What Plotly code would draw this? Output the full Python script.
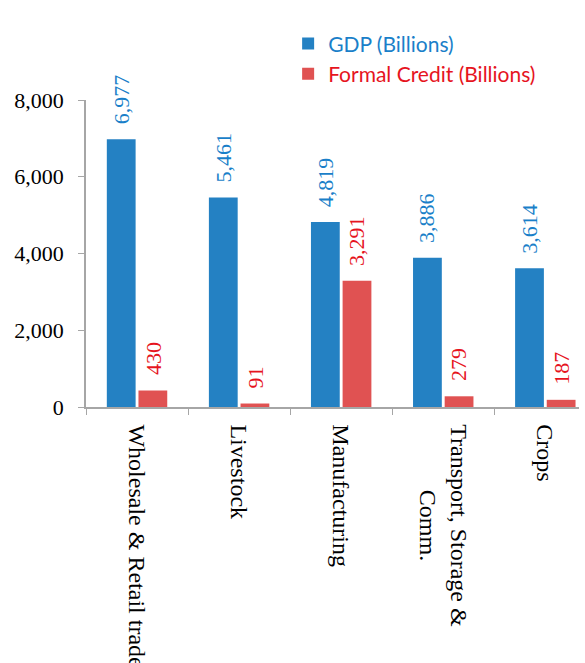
import plotly.graph_objects as go

categories = ["Wholesale & Retail trade", "Livestock", "Manufacturing",
              "Transport, Storage &<br>Comm.", "Crops"]
gdp = [6977, 5461, 4819, 3886, 3614]
credit = [430, 91, 3291, 279, 187]
y_ticks = [0, 2000, 4000, 6000, 8000]

BLUE_BAR = "#2481C3"
RED_BAR = "#E05252"
BLUE_TXT = "#1A7FC9"
RED_TXT = "#E6141E"
SERIF = "Liberation Serif, Times New Roman, serif"

fig = go.Figure()
fig.add_trace(go.Bar(
    x=categories, y=gdp, marker_color=BLUE_BAR, marker_line_width=0,
    name=f"<span style='color:{BLUE_TXT}'>GDP (Billions)</span>",
))
fig.add_trace(go.Bar(
    x=categories, y=credit, marker_color=RED_BAR, marker_line_width=0,
    name=f"<span style='color:{RED_TXT}'>Formal Credit (Billions)</span>",
))

# rotated value labels sitting above each bar
for series, color, shift in ((gdp, BLUE_TXT, -16), (credit, RED_TXT, 16)):
    for cat, val in zip(categories, series):
        fig.add_annotation(
            x=cat, y=val, xref="x", yref="y", text=f"{val:,}",
            textangle=-90, showarrow=False, xshift=shift, yshift=13,
            xanchor="center", yanchor="bottom",
            font=dict(family=SERIF, size=22, color=color),
        )

# category names, rotated to read downward and centred line by line
for cat in categories:
    fig.add_annotation(
        x=cat, y=0, xref="x", yref="y", text=cat,
        textangle=90, showarrow=False, yshift=-15,
        xanchor="center", yanchor="top", align="center",
        font=dict(family=SERIF, size=24, color="black"),
    )

fig.update_layout(
    width=585, height=663,
    margin=dict(l=86, r=6, t=100, b=256),
    paper_bgcolor="white", plot_bgcolor="white",
    barmode="group", bargap=0.38, bargroupgap=0.09,
    showlegend=True,
    legend=dict(
        x=0.41, y=1.25, xanchor="left", yanchor="top",
        font=dict(family="Lato, Carlito, sans-serif", size=21),
        bgcolor="rgba(0,0,0,0)", tracegroupgap=0, itemwidth=30,
    ),
    xaxis=dict(
        range=[-0.5, 4.33], showgrid=False, showticklabels=False,
        tickson="boundaries", ticks="outside", ticklen=6,
        tickcolor="#A6A6A6", showline=True, linecolor="#A6A6A6", linewidth=1.5,
    ),
    yaxis=dict(
        range=[0, 8000], tickvals=y_ticks, tickformat=",", showgrid=False,
        zeroline=False, ticks="outside", ticklen=6, tickcolor="#A6A6A6",
        showline=True, linecolor="#A6A6A6", linewidth=1.5,
        ticklabelstandoff=10,
        tickfont=dict(family=SERIF, size=22, color="black"),
    ),
)

fig.write_html("out.html")
